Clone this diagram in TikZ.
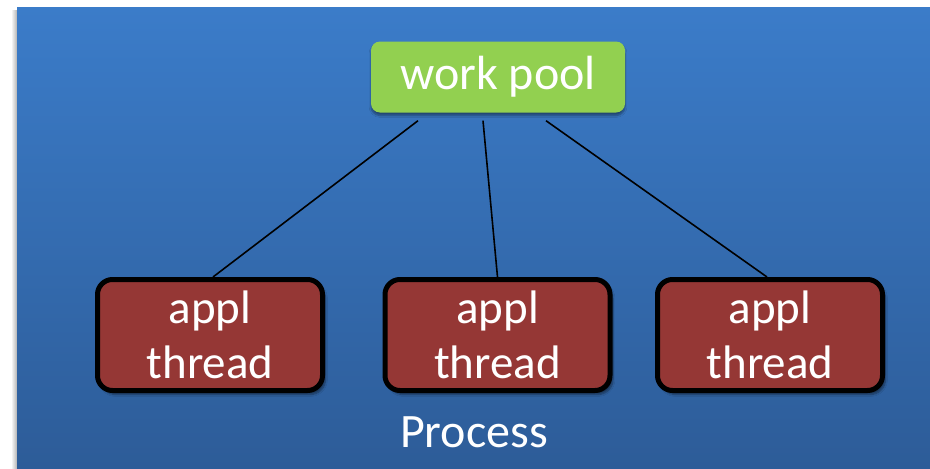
\documentclass[tikz,border=0pt]{standalone}
\usepackage{fontspec}
\setmainfont{Carlito}
\usetikzlibrary{calc,shadows.blur}
\definecolor{bgtop}{HTML}{3B7CC9}
\definecolor{bgbot}{HTML}{2D5C98}
\definecolor{poolgreen}{HTML}{92D050}
\definecolor{threadred}{HTML}{953735}
\tikzset{
  pool/.style={fill=poolgreen, rounded corners=9pt, minimum width=254pt,
    minimum height=71pt, inner sep=0pt, text=white,
    font=\fontsize{48}{56}\selectfont,
    blur shadow={shadow xshift=0pt, shadow yshift=-3pt, shadow blur steps=6, shadow opacity=40}},
  thread/.style={fill=threadred, draw=black, line width=5pt, rounded corners=15pt,
    minimum width=225pt, minimum height=111pt, inner sep=0pt, text=white,
    align=center, font=\fontsize{47}{55}\selectfont,
    blur shadow={shadow xshift=3pt, shadow yshift=-4pt, shadow blur steps=6, shadow opacity=45}},
  label/.style={text=white, font=\fontsize{48}{56}\selectfont, inner sep=0pt},
  link/.style={draw=black, line width=1.6pt}
}
\begin{document}
\begin{tikzpicture}[x=1pt, y=-1pt]
  \useasboundingbox (0,0) rectangle (930,469);
  % faint shadow along the left edge of the panel
  \shade[left color=white, right color=black!30] (11,10) rectangle (17,469);
  % process panel
  \shade[top color=bgtop, bottom color=bgbot] (17,7) rectangle (930,469);

  \node[pool] (wp) at (498,77) {work pool};
  \node[thread] (t1) at (210,335) {appl\\thread};
  \node[thread] (t2) at (497.5,335) {appl\\thread};
  \node[thread] (t3) at (770,335) {appl\\thread};
  \node[label, anchor=base] (proc) at (474,447) {Process};

  \coordinate (s1) at ($(wp.south)+(-80,8)$);
  \coordinate (s2) at ($(wp.south)+(-15,8)$);
  \coordinate (s3) at ($(wp.south)+(48,8)$);
  \draw[link] (s1) -- ($(t1.north)+(3,0)$);
  \draw[link] (s2) -- (t2.north);
  \draw[link] (s3) -- ($(t3.north)+(-3,0)$);
\end{tikzpicture}
\end{document}
